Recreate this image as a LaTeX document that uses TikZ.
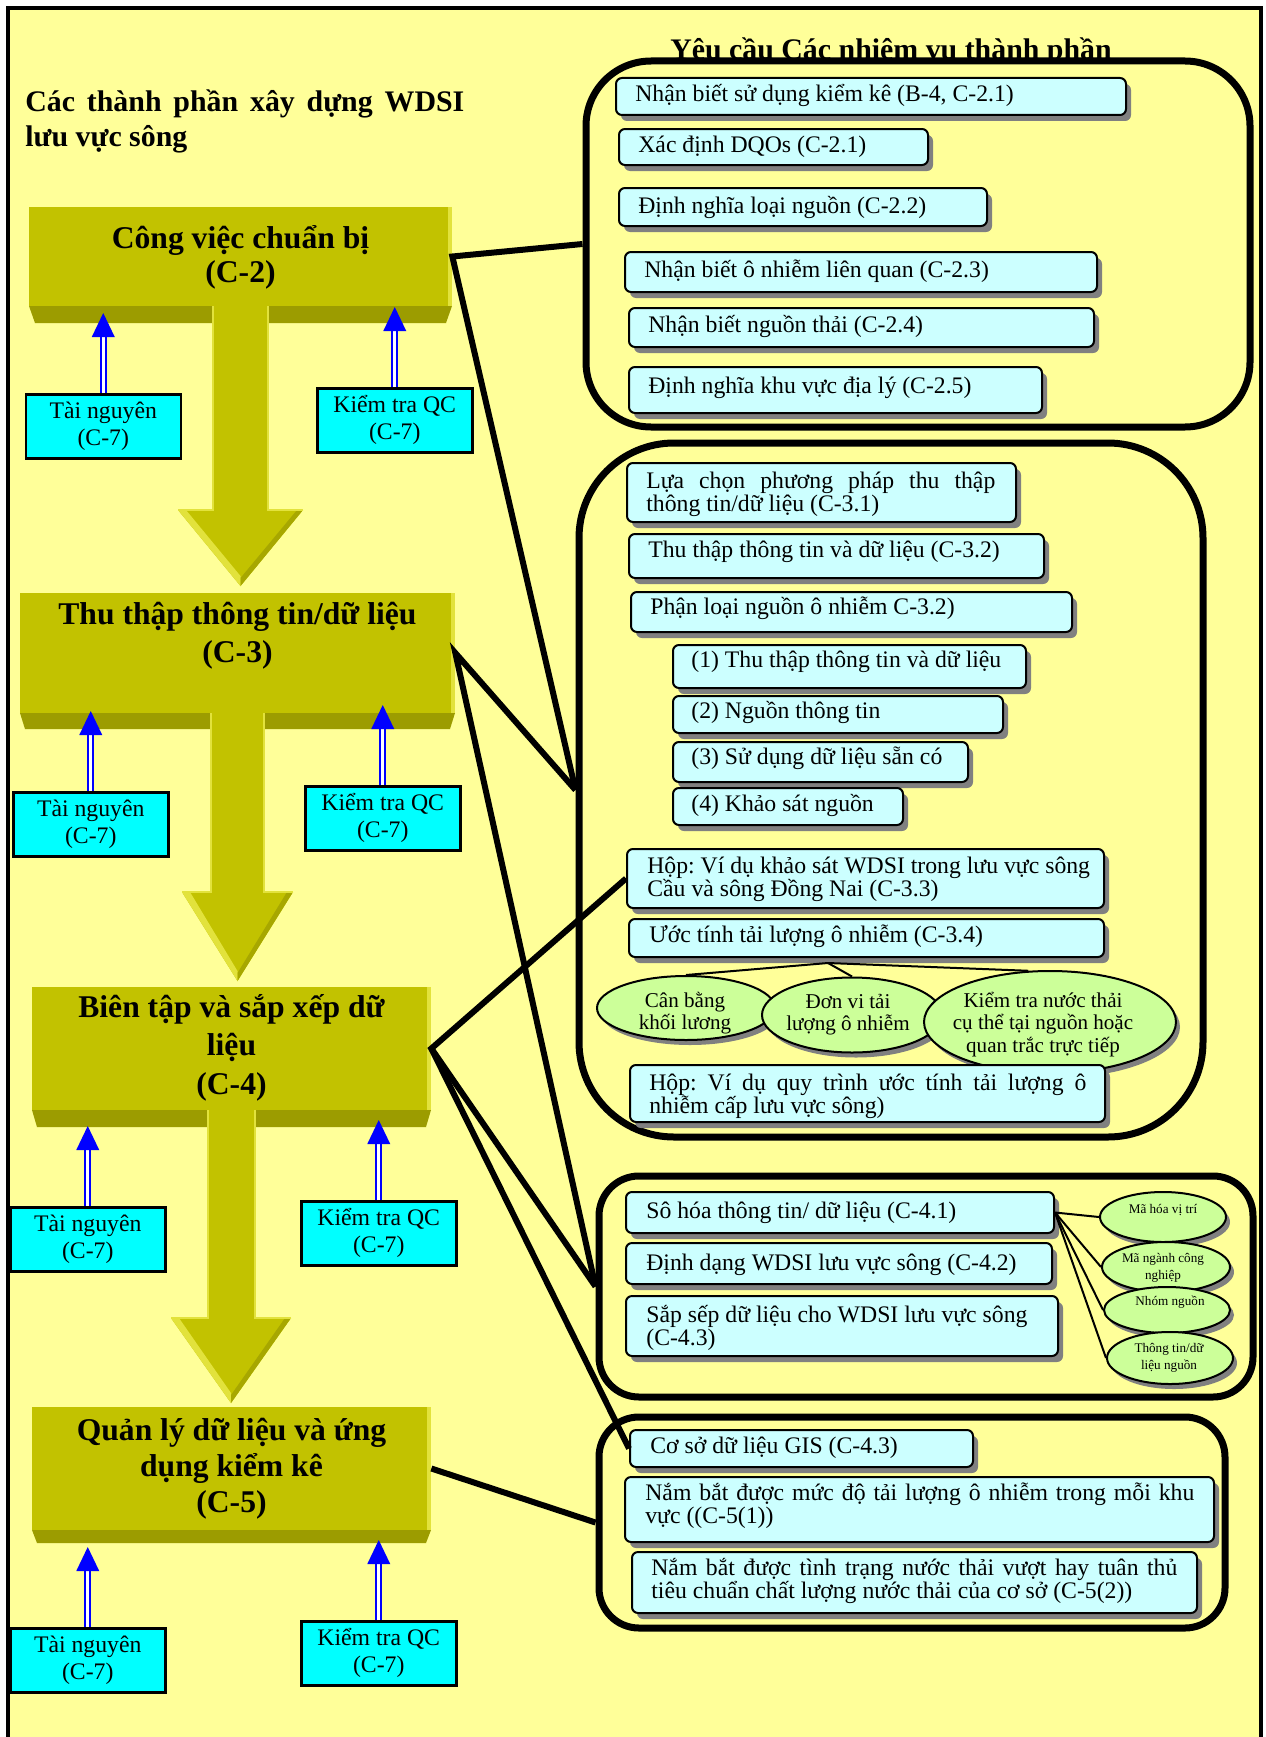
\documentclass[tikz,border=0pt]{standalone}
\usepackage{fontspec}
\setmainfont{Liberation Serif}
\usetikzlibrary{calc,fit,shapes.geometric,shadows}

\newdimen\px
\px=0.02cm

\definecolor{paper}{HTML}{FFFF99}
\definecolor{olivemain}{HTML}{C2C200}
\definecolor{olivedeep}{HTML}{9C9C00}
\definecolor{olivelight}{HTML}{E2E23C}
\definecolor{srccyan}{HTML}{00FFFF}
\definecolor{taskfill}{HTML}{CCFFFF}
\definecolor{blobfill}{HTML}{CCFF99}
\definecolor{feedblue}{HTML}{0000FF}

\newcommand\titlefont{\fontsize{17}{19.8}\selectfont\bfseries}
\newcommand\taskfont{\fontsize{13.5}{13.2}\selectfont}
\newcommand\srcfont{\fontsize{13.5}{15.3}\selectfont}
\newcommand\blobfont{\fontsize{12}{13}\selectfont}
\newcommand\tinyblobfont{\fontsize{7.5}{10.2}\selectfont}
% use the font's own (stretchable) word spaces inside wrapped node text
\newcommand\plainspaces{\spaceskip=0pt\xspaceskip=0pt\relax}
% a line stretched to a given width (justified first line of a paragraph)
\newcommand\spreadline[2]{\makebox[#1\px][s]{\plainspaces #2}}

\tikzset{
  frame/.style={draw=black, line width=4.5\px, fill=paper},
  group/.style={draw=black, line width=7\px, fill=paper, inner sep=0pt},
  face/.style={fill=olivemain, inner sep=0pt},
  facetext/.style={anchor=base, text width=430\px, inner sep=0pt},
  srcbox/.style={draw=black, line width=2.5\px, fill=srccyan, anchor=north west,
    minimum width=155\px, minimum height=64\px, inner sep=0pt, align=center, font=\srcfont},
  feed/.style={draw=feedblue, line width=2.2\px, double=white, double distance=2.6\px},
  task/.style={draw=black, line width=2\px, fill=taskfill, rounded corners=6\px, inner sep=0pt,
    drop shadow={shadow xshift=5\px, shadow yshift=-6\px, fill=black!50, opacity=1}},
  tasktext/.style={anchor=base west, inner sep=0pt, font=\taskfont},
  twoline/.style={tasktext, text width=#1},
  link/.style={draw=black, line width=6\px},
  spoke/.style={draw=black, line width=2\px},
  blob/.style={ellipse, draw=black, line width=2\px, fill=blobfill, inner sep=0pt,
    drop shadow={shadow xshift=4\px, shadow yshift=-5\px, fill=black!50, opacity=1}},
  blobtext/.style={anchor=base, text width=#1, inner sep=0pt},
}

% double blue feed arrow rising from the top of a source box
\newcommand\feedarrow[1]{%
  \draw[feed] (#1.north) -- ++(0,-57);
  \fill[feedblue] ($(#1.north)+(0,-80)$) -- ($(#1.north)+(-11.5,-56)$)
    -- ($(#1.north)+(11.5,-56)$) -- cycle;
}

% broad bevelled downward arrow between two stages
% #1,#2 shaft left/right, #3 shaft top, #4 head top, #5,#6 head left/right, #7 tip
\newcommand\flowarrow[7]{%
  \pgfmathsetmacro\tipx{(#5+#6)/2}
  \fill[olivemain] (#1,#3) -- (#1,#4) -- (#5,#4) -- (\tipx,#7) -- (#6,#4)
    -- (#2,#4) -- (#2,#3) -- cycle;
  \fill[olivelight] (#5,#4) -- ($(#5,#4)+(8,0)$) -- ($(\tipx,#7)+(0,-10)$)
    -- (\tipx,#7) -- cycle;
  \fill[olivedeep!70!olivemain] (#6,#4) -- ($(#6,#4)+(-6,0)$) -- ($(\tipx,#7)+(0,-8)$)
    -- (\tipx,#7) -- cycle;
  \draw[olivelight, line width=1.5\px] (#5,#4) -- (#1,#4) -- (#1,#3)
    (#2,#3) -- (#2,#4) -- (#6,#4);
}

\begin{document}
\frenchspacing
\begin{tikzpicture}[x=0.02cm, y=-0.02cm]
\useasboundingbox (0,0) rectangle (1266,1737);
\clip (0,0) rectangle (1266,1737);
\fill[white] (0,0) rectangle (1266,1737);
\draw[frame] (8,8) rectangle (1261,1790);

% ---------- left column: stages ----------
\node[anchor=base west, inner sep=0pt, text width=439\px, font=\titlefont]
  (title) at (25,112) {\plainspaces\spreadline{439}{Các thành phần xây dựng WDSI}\\lưu vực sông};

% stage C-2
\node[face, fit={(29,207)(452,306)}] (c2) {};
\fill[olivelight] (448,207) rectangle (452,306);
\fill[olivedeep] (29,306) -- (452,306) -- (446,323) -- (35,323) -- cycle;
\flowarrow{213}{268}{306}{510}{178}{303}{586}
\node[facetext, font=\fontsize{18}{19.8}\selectfont\bfseries] (c2t) at (240.5,248)
  {\plainspaces\centering Công việc chuẩn bị\\(C-2)\par};

% stage C-3
\node[face, fit={(20,593)(455,713)}] (c3) {};
\fill[olivelight] (451,593) rectangle (455,713);
\fill[olivedeep] (20,713) -- (455,713) -- (450,729) -- (25,729) -- cycle;
\flowarrow{211}{264}{713}{892}{182}{293}{981}
\node[facetext, font=\fontsize{18}{22.1}\selectfont\bfseries] (c3t) at (237.5,624)
  {\plainspaces\centering Thu thập thông tin/dữ liệu\\(C-3)\par};

% stage C-4
\node[face, fit={(32,987)(431,1110)}] (c4) {};
\fill[olivelight] (427,987) rectangle (431,1110);
\fill[olivedeep] (32,1110) -- (431,1110) -- (426,1127) -- (37,1127) -- cycle;
\flowarrow{208}{255}{1110}{1318}{171}{291}{1403}
\node[facetext, font=\fontsize{18}{22.1}\selectfont\bfseries] (c4t) at (231.5,1017)
  {\plainspaces\centering Biên tập và sắp xếp dữ\\liệu\\(C-4)\par};

% stage C-5
\node[face, fit={(32,1407)(431,1530)}] (c5) {};
\fill[olivelight] (427,1407) rectangle (431,1530);
\fill[olivedeep] (32,1530) -- (431,1530) -- (426,1543) -- (37,1543) -- cycle;
\node[facetext, font=\fontsize{18}{20.7}\selectfont\bfseries] (c5t) at (231.5,1440)
  {\plainspaces\centering Quản lý dữ liệu và ứng\\dụng kiểm kê\\(C-5)\par};

% resource and QC inputs
\node[srcbox] (tn1) at (24.5,393) {Tài nguyên\\(C-7)};
\node[srcbox] (qc1) at (316,387) {Kiểm tra QC\\(C-7)};
\node[srcbox] (tn2) at (12,791) {Tài nguyên\\(C-7)};
\node[srcbox] (qc2) at (304,785) {Kiểm tra QC\\(C-7)};
\node[srcbox] (tn3) at (9,1206) {Tài nguyên\\(C-7)};
\node[srcbox] (qc3) at (300,1200) {Kiểm tra QC\\(C-7)};
\node[srcbox] (tn4) at (9,1627) {Tài nguyên\\(C-7)};
\node[srcbox] (qc4) at (300,1620) {Kiểm tra QC\\(C-7)};
\feedarrow{tn1}\feedarrow{qc1}\feedarrow{tn2}\feedarrow{qc2}
\feedarrow{tn3}\feedarrow{qc3}\feedarrow{tn4}\feedarrow{qc4}

% ---------- right column: task groups ----------
\node[anchor=base, inner sep=0pt, font=\titlefont] (heading) at (891,60)
  {Yêu cầu Các nhiệm vụ thành phần};

\node[group, rounded corners=65\px, fit={(586,61)(1250,427)}] (g1) {};
\node[group, rounded corners=95\px, fit={(579,443)(1203,1137)}] (g2) {};
\node[group, rounded corners=40\px, fit={(599,1176)(1253,1397)}] (g3) {};
\node[group, rounded corners=40\px, fit={(599,1417)(1225,1628)}] (g4) {};

% group 1: preparation tasks
\node[task, fit={(616,78)(1126,115)}] (r1a) {};
\node[tasktext] (r1at) at (635,102) {Nhận biết sử dụng kiểm kê (B-4, C-2.1)};
\node[task, fit={(619,129)(928,165)}] (r1b) {};
\node[tasktext] (r1bt) at (638,153) {Xác định DQOs (C-2.1)};
\node[task, fit={(619,188)(987,226)}] (r1c) {};
\node[tasktext] (r1ct) at (638,213) {Định nghĩa loại nguồn (C-2.2)};
\node[task, fit={(625,252)(1097,292)}] (r1d) {};
\node[tasktext] (r1dt) at (644,277) {Nhận biết ô nhiễm liên quan (C-2.3)};
\node[task, fit={(629,308)(1094,347)}] (r1e) {};
\node[tasktext] (r1et) at (648,332) {Nhận biết nguồn thải (C-2.4)};
\node[task, fit={(629,367)(1042,413)}] (r1f) {};
\node[tasktext] (r1ft) at (648,393) {Định nghĩa khu vực địa lý (C-2.5)};

% group 2: data collection tasks
\node[task, fit={(627,463)(1016,522)}] (r2a) {};
\node[twoline=351\px] (r2at) at (646,488)
  {\plainspaces\spreadline{349}{Lựa chọn phương pháp thu thập}\\thông tin/dữ liệu (C-3.1)};
\node[task, fit={(629,534)(1044,578)}] (r2b) {};
\node[tasktext] (r2bt) at (648,557) {Thu thập thông tin và dữ liệu (C-3.2)};
\node[task, fit={(631,592)(1072,632)}] (r2c) {};
\node[tasktext] (r2ct) at (650,614) {Phận loại nguồn ô nhiễm C-3.2)};
\node[task, fit={(673,645)(1026,688)}] (r2d) {};
\node[tasktext] (r2dt) at (691,667) {(1) Thu thập thông tin và dữ liệu};
\node[task, fit={(673,696)(1003,733)}] (r2e) {};
\node[tasktext] (r2et) at (691,718) {(2) Nguồn thông tin};
\node[task, fit={(673,742)(968,782)}] (r2f) {};
\node[tasktext] (r2ft) at (691,764) {(3) Sử dụng dữ liệu sẵn có};
\node[task, fit={(673,788)(903,825)}] (r2g) {};
\node[tasktext] (r2gt) at (691,811) {(4) Khảo sát nguồn};
\node[task, fit={(627,849)(1104,908)}] (r2h) {};
\node[twoline=440\px] (r2ht) at (647,873)
  {\plainspaces\mbox{Hộp: Ví dụ khảo sát WDSI trong lưu vực sông}\\\mbox{Cầu và sông Đồng Nai (C-3.3)}};
\node[task, fit={(629,919)(1104,957)}] (r2i) {};
\node[tasktext] (r2it) at (649,942) {Ước tính tải lượng ô nhiễm (C-3.4)};

\coordinate (hub) at (828,963);
\node[blob, minimum width=178\px, minimum height=64\px] (e1) at (686,1008) {};
\node[blobtext=170\px, font=\blobfont] (e1t) at (685,1007)
  {\plainspaces\centering Cân bằng\\khối lương\par};
\node[blob, minimum width=180\px, minimum height=75\px] (e2) at (852,1015) {};
\node[blobtext=170\px, font=\blobfont] (e2t) at (848,1008)
  {\plainspaces\centering Đơn vi tải\\lượng ô nhiễm\par};
\node[blob, minimum width=252\px, minimum height=102\px] (e3) at (1050,1022) {};
\node[blobtext=240\px, font=\blobfont] (e3t) at (1043,1007)
  {\plainspaces\centering Kiểm tra nước thải\\cụ thể tại nguồn hoặc\\quan trắc trực tiếp\par};
\draw[spoke] (hub) -- (e1.north);
\draw[spoke] (hub) -- (e2.north);
\draw[spoke] (hub) -- (e3.113);

\node[task, fit={(630,1065)(1105,1122)}] (r2j) {};
\node[twoline=438\px] (r2jt) at (649,1090)
  {\plainspaces\spreadline{437}{Hộp: Ví dụ quy trình ước tính tải lượng ô}\\nhiễm cấp lưu vực sông)};

% group 3: compilation tasks
\node[task, fit={(626,1192)(1054,1233)}] (r3a) {};
\node[tasktext] (r3at) at (646,1218) {Sô hóa thông tin/ dữ liệu (C-4.1)};
\node[task, fit={(626,1243)(1052,1284)}] (r3b) {};
\node[tasktext] (r3bt) at (646,1270) {Định dạng WDSI lưu vực sông (C-4.2)};
\node[task, fit={(626,1296)(1058,1356)}] (r3c) {};
\node[twoline=400\px] (r3ct) at (646,1322)
  {\plainspaces\mbox{Sắp sếp dữ liệu cho WDSI lưu vực sông}\\(C-4.3)};

\node[blob, minimum width=126\px, minimum height=50\px] (s1) at (1163,1217) {};
\node[blobtext=120\px, font=\tinyblobfont] (s1t) at (1163,1213)
  {\plainspaces\centering Mã hóa vị trí\par};
\node[blob, minimum width=128\px, minimum height=50\px] (s2) at (1166,1267) {};
\node[blobtext=120\px, font=\tinyblobfont] (s2t) at (1163,1262)
  {\plainspaces\centering Mã ngành công\\nghiệp\par};
\node[blob, minimum width=126\px, minimum height=46\px] (s3) at (1167,1310) {};
\node[blobtext=120\px, font=\tinyblobfont] (s3t) at (1170,1305)
  {\plainspaces\centering Nhóm nguồn\par};
\node[blob, minimum width=126\px, minimum height=52\px] (s4) at (1170,1358) {};
\node[blobtext=120\px, font=\tinyblobfont] (s4t) at (1169,1352)
  {\plainspaces\centering Thông tin/dữ\\liệu nguồn\par};
\foreach \s in {s1,s2,s3,s4} \draw[spoke] (r3a.east) -- (\s.west);

% group 4: data management tasks
\node[task, fit={(630,1430)(973,1467)}] (r4a) {};
\node[tasktext] (r4at) at (650,1453) {Cơ sở dữ liệu GIS (C-4.3)};
\node[task, fit={(625,1477)(1214,1542)}] (r4b) {};
\node[twoline=551\px] (r4bt) at (645,1500)
  {\plainspaces\spreadline{549}{Nắm bắt được mức độ tải lượng ô nhiễm trong mỗi khu}\\vực ((C-5(1))};
\node[task, fit={(632,1552)(1197,1613)}] (r4c) {};
\node[twoline=528\px] (r4ct) at (651,1575)
  {\plainspaces\spreadline{526}{Nắm bắt được tình trạng nước thải vượt hay tuân thủ}\\\mbox{tiêu chuẩn chất lượng nước thải của cơ sở (C-5(2))}};

% ---------- stage-to-group links ----------
\draw[link] (g1.west) -- (c2.east) -- (g2.west);
\draw[link] (g2.west) -- (c3.east) -- (g3.west);
\draw[link] (r2h.west) -- (c4.east) -- (g3.west);
\draw[link] (c4.east) -- (r4a.west);
\draw[link] (c5.east) -- (g4.west);
\end{tikzpicture}
\end{document}
